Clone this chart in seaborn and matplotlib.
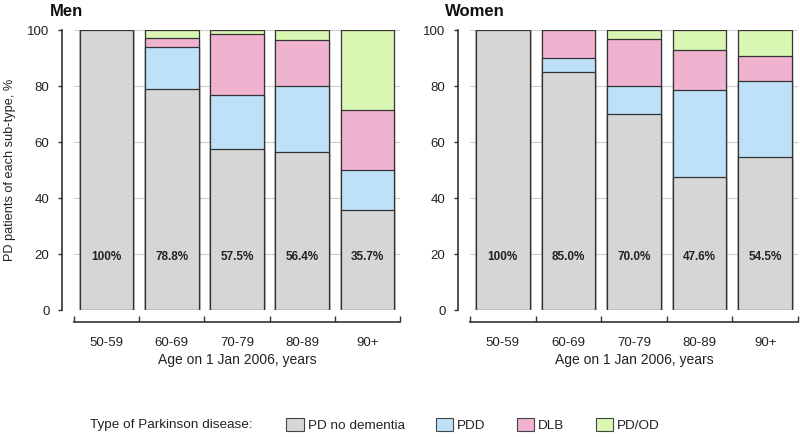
import numpy as np
import pandas as pd
import matplotlib
matplotlib.use("Agg")
import matplotlib.pyplot as plt
import seaborn as sns
from matplotlib.patches import Patch

age_groups = ["50-59", "60-69", "70-79", "80-89", "90+"]
subtypes = ["PD no dementia", "PDD", "DLB", "PD/OD"]

men_no_dementia = [100, 78.8, 57.5, 56.4, 35.7]
men_pdd = [0, 15.2, 19.2, 23.6, 14.3]
men_dlb = [0, 3.0, 21.9, 16.4, 21.4]
men_pdod = [0, 3.0, 1.4, 3.6, 28.6]

women_no_dementia = [100, 85.0, 70.0, 47.6, 54.5]
women_pdd = [0, 5.0, 10.0, 31.0, 27.3]
women_dlb = [0, 10.0, 16.7, 14.3, 9.1]
women_pdod = [0, 0, 3.3, 7.1, 9.1]

colors = ["#d6d6d6", "#bfe1f8", "#efb3cf", "#d9f7b3"]

sns.set_theme(style="white")
plt.rcParams['font.family'] = ['Liberation Sans', 'DejaVu Sans']
text_color = "#222222"


def stacked_panel(ax, layers, title):
    # cumulative tops, drawn tallest first so each layer sits on the one below
    tops = np.cumsum(np.array(layers), axis=0)
    for i in range(len(layers) - 1, -1, -1):
        df = pd.DataFrame({"age": age_groups, "top": tops[i]})
        sns.barplot(data=df, x="age", y="top", color=colors[i], saturation=1,
                    width=0.82, edgecolor="#333333", linewidth=0.9, ax=ax)
    for x, v in enumerate(layers[0]):
        label = "100%" if v == 100 else f"{v:.1f}%"
        ax.text(x, 19, label, ha="center", va="center", fontsize=8.5,
                fontweight="bold", color=text_color)

    ax.set_ylim(0, 100)
    ax.set_xlim(-0.5, 4.5)
    ax.set_yticks(range(0, 101, 20))
    ax.yaxis.grid(True, color="#cccccc", lw=0.8)
    ax.set_axisbelow(True)
    ax.spines["top"].set_visible(False)
    ax.spines["right"].set_visible(False)
    for side in ["left", "bottom"]:
        ax.spines[side].set_position(("outward", 8.6))
        ax.spines[side].set_color("#333333")
        ax.spines[side].set_linewidth(1.2)
    ax.set_xticks(np.arange(-0.5, 5, 1), minor=True)
    ax.tick_params(axis="x", which="major", length=0, labelsize=9.5,
                   colors=text_color, pad=11)
    ax.tick_params(axis="x", which="minor", direction="in", length=4,
                   width=1, color="#333333", bottom=True)
    ax.tick_params(axis="y", direction="out", length=3, width=1, left=True,
                   color="#333333", labelsize=9.5, labelcolor=text_color, pad=6)
    ax.set_xlabel("Age on 1 Jan 2006, years", fontsize=10, color=text_color,
                  labelpad=3)
    ax.set_ylabel("")
    ax.set_title(title, loc="left", x=-0.075, y=1.02, fontsize=12,
                 fontweight="bold", color="#111111")


fig = plt.figure(figsize=(8, 4.37), dpi=100)
ax_men = fig.add_axes([74 / 800, 0.2906, 326 / 800, 0.6407])
ax_women = fig.add_axes([470 / 800, 0.2906, 328 / 800, 0.6407])

stacked_panel(ax_men, [men_no_dementia, men_pdd, men_dlb, men_pdod], "Men")
stacked_panel(ax_women, [women_no_dementia, women_pdd, women_dlb, women_pdod], "Women")

ax_men.set_ylabel("PD patients of each sub-type, %", fontsize=9.2,
                  color=text_color, labelpad=8)

fig.text(90 / 800, 1 - 425 / 437, "Type of Parkinson disease:", fontsize=9.7,
         color=text_color, va="center")
handles = [Patch(facecolor=c, edgecolor="#444444", linewidth=0.8, label=s)
           for c, s in zip(colors, subtypes)]
fig.legend(handles=handles, loc="center left", ncol=4, frameon=False,
           bbox_to_anchor=(274 / 800, 1 - 425 / 437), fontsize=9.7,
           handlelength=1.3, handleheight=1.1, handletextpad=0.3,
           columnspacing=2.3, labelcolor=text_color)

fig.savefig("out.png", dpi=100, facecolor="white")
